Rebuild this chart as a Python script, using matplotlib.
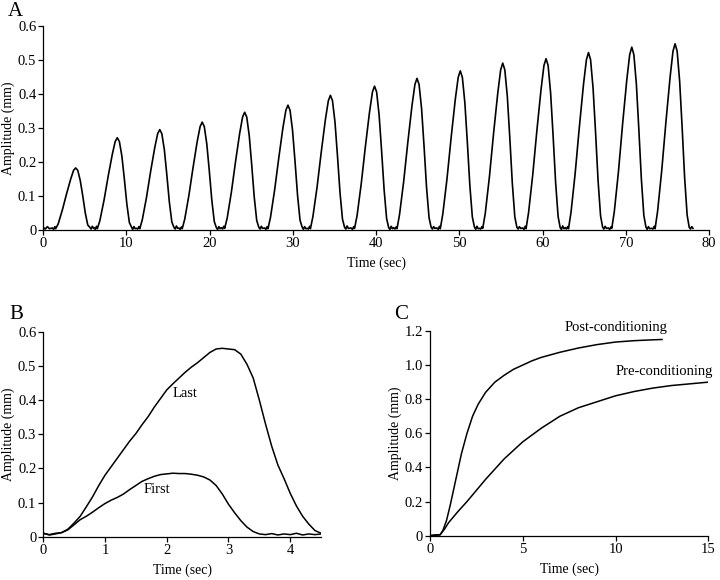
import numpy as np
import matplotlib
matplotlib.use("Agg")
import matplotlib.pyplot as plt

plt.rcParams['font.family'] = ['Liberation Serif', 'DejaVu Serif']
plt.rcParams['font.size'] = 10

# Panel A: 15 repeated pulses (peak time in sec, amplitude samples around each peak)
pulse_peak_times = [3.9, 8.9, 14.0, 19.1, 24.2, 29.4, 34.5, 39.8, 44.9, 50.1,
                    55.2, 60.4, 65.5, 70.7, 75.9]
pulse_offsets = [-2.8, -2.65, -2.5, -2.4, -2.1, -1.6, -1.1, -0.6, -0.25, 0.0,
                 0.25, 0.55, 0.85, 1.15, 1.45, 1.7, 1.85, 2.0, 2.15]
pulse_amps = [
    [0.006, 0.002, 0.010, 0.004, 0.018, 0.059, 0.106, 0.150, 0.176, 0.183, 0.176, 0.146, 0.101, 0.051, 0.015, 0.008, 0.003, 0.011, 0.005],
    [0.007, 0.002, 0.011, 0.004, 0.027, 0.087, 0.158, 0.223, 0.261, 0.272, 0.261, 0.218, 0.150, 0.076, 0.022, 0.009, 0.002, 0.010, 0.004],
    [0.005, 0.003, 0.010, 0.004, 0.030, 0.095, 0.172, 0.243, 0.284, 0.296, 0.284, 0.237, 0.163, 0.083, 0.024, 0.008, 0.003, 0.012, 0.005],
    [0.006, 0.002, 0.009, 0.004, 0.032, 0.102, 0.184, 0.261, 0.305, 0.318, 0.305, 0.254, 0.175, 0.089, 0.025, 0.007, 0.002, 0.010, 0.004],
    [0.007, 0.003, 0.011, 0.005, 0.035, 0.111, 0.201, 0.285, 0.333, 0.347, 0.333, 0.278, 0.191, 0.097, 0.028, 0.008, 0.003, 0.011, 0.005],
    [0.006, 0.002, 0.010, 0.004, 0.037, 0.118, 0.213, 0.302, 0.353, 0.368, 0.353, 0.294, 0.202, 0.103, 0.029, 0.009, 0.002, 0.010, 0.004],
    [0.005, 0.003, 0.011, 0.004, 0.040, 0.127, 0.230, 0.326, 0.381, 0.397, 0.381, 0.318, 0.218, 0.111, 0.032, 0.008, 0.003, 0.012, 0.005],
    [0.006, 0.002, 0.010, 0.005, 0.042, 0.136, 0.246, 0.348, 0.407, 0.424, 0.407, 0.339, 0.233, 0.119, 0.034, 0.007, 0.002, 0.011, 0.004],
    [0.007, 0.003, 0.009, 0.004, 0.045, 0.143, 0.259, 0.367, 0.429, 0.447, 0.429, 0.358, 0.246, 0.125, 0.036, 0.008, 0.003, 0.010, 0.005],
    [0.006, 0.002, 0.011, 0.004, 0.047, 0.150, 0.272, 0.385, 0.450, 0.469, 0.450, 0.375, 0.258, 0.131, 0.038, 0.009, 0.002, 0.011, 0.004],
    [0.005, 0.003, 0.010, 0.005, 0.049, 0.157, 0.285, 0.403, 0.472, 0.492, 0.472, 0.394, 0.271, 0.138, 0.039, 0.008, 0.003, 0.010, 0.005],
    [0.006, 0.002, 0.011, 0.004, 0.051, 0.162, 0.293, 0.414, 0.485, 0.505, 0.485, 0.404, 0.278, 0.141, 0.040, 0.007, 0.002, 0.012, 0.004],
    [0.007, 0.003, 0.010, 0.004, 0.052, 0.167, 0.303, 0.429, 0.502, 0.523, 0.502, 0.418, 0.288, 0.146, 0.042, 0.008, 0.003, 0.011, 0.005],
    [0.006, 0.002, 0.009, 0.005, 0.054, 0.172, 0.313, 0.442, 0.517, 0.539, 0.517, 0.431, 0.296, 0.151, 0.043, 0.009, 0.002, 0.010, 0.004],
    [0.005, 0.003, 0.011, 0.004, 0.055, 0.176, 0.318, 0.450, 0.527, 0.549, 0.527, 0.439, 0.302, 0.154, 0.044, 0.008, 0.003, 0.010, 0.005],
]
lead_t = [0.0, 0.25, 0.5, 0.75]
lead_amp = [0.008, 0.003, 0.010, 0.004]

# Panel B: first and last pulse
b_time = [0.0, 0.1, 0.2, 0.3, 0.4, 0.5, 0.6, 0.7, 0.8, 0.9, 1.0, 1.1, 1.2, 1.3, 1.4, 1.5,
          1.6, 1.7, 1.8, 1.9, 2.0, 2.1, 2.2, 2.3, 2.4, 2.5, 2.6, 2.7, 2.8, 2.9, 3.0, 3.1,
          3.2, 3.3, 3.4, 3.5, 3.6, 3.7, 3.8, 3.9, 4.0, 4.1, 4.2, 4.3, 4.4, 4.5]
b_last = [0.010, 0.006, 0.010, 0.012, 0.022, 0.040, 0.060, 0.088, 0.117, 0.150, 0.180,
          0.205, 0.230, 0.255, 0.280, 0.302, 0.328, 0.352, 0.380, 0.405, 0.430, 0.448,
          0.465, 0.482, 0.497, 0.510, 0.525, 0.540, 0.550, 0.552, 0.550, 0.548, 0.535,
          0.505, 0.465, 0.400, 0.330, 0.265, 0.210, 0.170, 0.127, 0.090, 0.060, 0.037,
          0.018, 0.010]
b_first = [0.010, 0.005, 0.008, 0.012, 0.020, 0.035, 0.050, 0.060, 0.072, 0.085, 0.097,
           0.107, 0.115, 0.125, 0.138, 0.150, 0.162, 0.170, 0.177, 0.182, 0.184, 0.186,
           0.185, 0.185, 0.183, 0.180, 0.175, 0.166, 0.150, 0.125, 0.095, 0.070, 0.047,
           0.028, 0.015, 0.008, 0.006, 0.009, 0.005, 0.008, 0.006, 0.010, 0.005, 0.008,
           0.006, 0.008]

# Panel C: pre vs post conditioning
post_time = [0.0, 0.3, 0.55, 0.7, 0.9, 1.1, 1.3, 1.5, 1.7, 2.0, 2.3, 2.6, 3.0, 3.5, 4.0,
             4.5, 5.0, 5.5, 6.0, 7.0, 8.0, 9.0, 10.0, 11.0, 12.0, 12.5]
post_amp = [0.0, 0.005, 0.005, 0.03, 0.09, 0.18, 0.28, 0.38, 0.48, 0.60, 0.70, 0.77,
            0.84, 0.90, 0.94, 0.975, 1.0, 1.025, 1.045, 1.075, 1.10, 1.12, 1.135, 1.143,
            1.148, 1.15]
pre_time = [0.0, 0.55, 0.8, 1.0, 1.5, 2.0, 2.5, 3.0, 3.5, 4.0, 4.5, 5.0, 5.5, 6.0, 6.5,
            7.0, 8.0, 9.0, 10.0, 11.0, 12.0, 13.0, 14.0, 15.0]
pre_amp = [0.0, 0.005, 0.04, 0.075, 0.14, 0.20, 0.265, 0.33, 0.39, 0.45, 0.50, 0.55,
           0.59, 0.63, 0.665, 0.70, 0.75, 0.785, 0.82, 0.845, 0.865, 0.88, 0.89, 0.90]


def style_axis(ax):
    ax.spines['top'].set_visible(False)
    ax.spines['right'].set_visible(False)
    for s in ('left', 'bottom'):
        ax.spines[s].set_linewidth(0.9)
    ax.tick_params(direction='out', length=3.5, width=0.9, labelsize=10.5, pad=1.5)
    ax.set_facecolor('white')


def fmt(v):
    return '0' if v == 0 else f'{v:.1f}'


fig = plt.figure(figsize=(7.2, 5.8), dpi=100)

# A
axA = fig.add_axes([0.060, 0.6034, 0.925, 0.351])
tA = list(lead_t)
yA = list(lead_amp)
for pk, amps in zip(pulse_peak_times, pulse_amps):
    tA += [pk + o for o in pulse_offsets]
    yA += amps
axA.plot(tA, yA, color='black', lw=1.2)
axA.set_xlim(0, 80)
axA.set_ylim(0, 0.6)
axA.set_xticks(range(0, 81, 10))
yt = [0, 0.1, 0.2, 0.3, 0.4, 0.5, 0.6]
axA.set_yticks(yt)
axA.set_yticklabels([fmt(v) for v in yt])
style_axis(axA)
axA.set_xlabel('Time (sec)', fontsize=10, labelpad=5)
axA.set_ylabel('Amplitude (mm)', fontsize=10, labelpad=2)

# B
axB = fig.add_axes([0.060, 0.0747, 0.386, 0.353])
axB.plot(b_time, b_last, color='black', lw=1.1)
axB.plot(b_time, b_first, color='black', lw=1.1)
axB.set_xlim(0, 4.5)
axB.set_ylim(0, 0.6)
axB.set_xticks([0, 1, 2, 3, 4])
axB.set_yticks(yt)
axB.set_yticklabels([fmt(v) for v in yt])
style_axis(axB)
axB.set_xlabel('Time (sec)', fontsize=10, labelpad=5)
axB.set_ylabel('Amplitude (mm)', fontsize=10, labelpad=2)
axB.text(2.1, 0.42, 'Last', fontsize=10.5, va='center', ha='left')
axB.text(1.62, 0.137, 'First', fontsize=10.5, va='center', ha='left')

# C
axC = fig.add_axes([0.597, 0.0764, 0.387, 0.353])
axC.plot(post_time, post_amp, color='black', lw=1.1)
axC.plot(pre_time, pre_amp, color='black', lw=1.1)
axC.set_xlim(0, 15)
axC.set_ylim(0, 1.2)
axC.set_xticks([0, 5, 10, 15])
ytc = [0, 0.2, 0.4, 0.6, 0.8, 1.0, 1.2]
axC.set_yticks(ytc)
axC.set_yticklabels([fmt(v) for v in ytc])
style_axis(axC)
axC.set_xlabel('Time (sec)', fontsize=10, labelpad=5)
axC.set_ylabel('Amplitude (mm)', fontsize=10, labelpad=2)
axC.text(7.28, 1.22, 'Post-conditioning', fontsize=10.5, va='center', ha='left', clip_on=False)
axC.text(9.98, 0.96, 'Pre-conditioning', fontsize=10.5, va='center', ha='left')

fig.text(0.011, 0.980, 'A', fontsize=15, va='center', ha='left')
fig.text(0.013, 0.457, 'B', fontsize=15, va='center', ha='left')
fig.text(0.548, 0.457, 'C', fontsize=15, va='center', ha='left')

fig.savefig('out.png', dpi=100, facecolor='white')
